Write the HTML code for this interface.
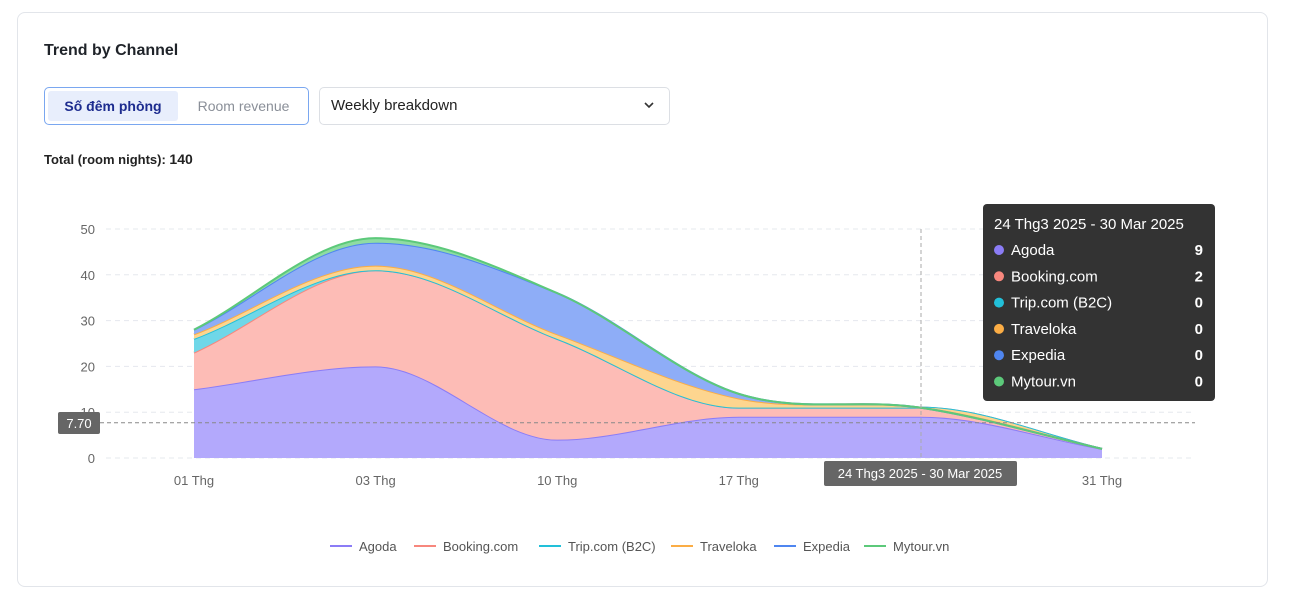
<!DOCTYPE html>
<html><head><meta charset="utf-8">
<style>
body{margin:0;background:#fff;font-family:"Liberation Sans","Noto Sans CJK SC",sans-serif;width:1305px;height:604px;overflow:hidden;position:relative}
.card{position:absolute;left:17px;top:12px;width:1249px;height:573px;border:1px solid #e2e5ea;border-radius:8px}
.title{position:absolute;left:44px;top:42px;font-size:16px;font-weight:bold;color:#1f2329}
.seg{position:absolute;left:44px;top:87px;width:265px;height:38px;border:1px solid #7aa7f0;border-radius:5px;box-sizing:border-box}
.seg .a{position:absolute;left:3px;top:3px;width:130px;height:30px;background:#e8eefc;border-radius:3px;color:#1d2c8f;font-weight:bold;font-size:14px;line-height:30px;text-align:center}
.seg .b{position:absolute;left:136px;top:3px;width:125px;height:30px;color:#8a8f98;font-size:14px;line-height:30px;text-align:center}
.sel{position:absolute;left:319px;top:87px;width:351px;height:38px;border:1px solid #dcdfe4;border-radius:5px;box-sizing:border-box;font-size:15px;color:#222;line-height:36px;padding-left:11px}
.sel svg{position:absolute;right:14px;top:13px}
.total{position:absolute;left:44px;top:151px;font-size:13px;color:#222;font-weight:bold}
.total b{font-size:14px}
</style></head><body>
<div class="card"></div>
<div class="title">Trend by Channel</div>
<div class="seg">
<div class="a">Số đêm phòng</div>
<div class="b">Room revenue</div></div>
<div class="sel">Weekly breakdown<svg width="12" height="8" viewBox="0 0 12 8"><path d="M2 2l4 4 4-4" stroke="#333" stroke-width="1.6" fill="none"/></svg></div>
<div class="total">Total (room nights): <b>140</b></div>
<svg id="chart" width="1305" height="604" style="position:absolute;left:0;top:0"></svg>
<script>
const categories=["01 Thg","03 Thg","10 Thg","17 Thg","24 Thg","31 Thg"];
const seriesNames=["Agoda","Booking.com","Trip.com (B2C)","Traveloka","Expedia","Mytour.vn"];
const agoda=[15,20,4,9,9,2];
const booking=[8,21,22,2,2,0];
const trip=[3,0,0,0,0,0];
const traveloka=[1,1,1,2,0,0];
const expedia=[1,5,9,1,0,0];
const mytour=[0,1,0,0,0,0];
const yTicks=[0,10,20,30,40,50];
const tooltipValues=[9,2,0,0,0,0];
const series=[agoda,booking,trip,traveloka,expedia,mytour];
const lineC=["#8b7cf6","#f7877d","#22c0d9","#fbad45","#4f86f0","#5cc97a"];
const fillC=["#b3a9fc","#fdbcb6","#6fd7e8","#fdd58f","#8eadf7","#8fdca3"];
const svg=document.getElementById('chart');const NS="http://www.w3.org/2000/svg";
const x=i=>194+i*181.6, y=v=>458-v*4.58;
function mk(t,a,p){const e=document.createElementNS(NS,t);for(const k in a)e.setAttribute(k,a[k]);(p||svg).appendChild(e);return e;}
function curve(pts){ // monotone cubic
 const n=pts.length,d=[],m=[];
 for(let i=0;i<n-1;i++)d.push((pts[i+1][1]-pts[i][1])/(pts[i+1][0]-pts[i][0]));
 for(let i=0;i<n;i++){if(i==0)m.push(d[0]);else if(i==n-1)m.push(d[n-2]);else m.push(d[i-1]*d[i]<=0?0:(d[i-1]+d[i])/2);}
 let s="";for(let i=0;i<n-1;i++){const h=(pts[i+1][0]-pts[i][0])/3;s+=` C${pts[i][0]+h},${pts[i][1]+m[i]*h} ${pts[i+1][0]-h},${pts[i+1][1]-m[i+1]*h} ${pts[i+1][0]},${pts[i+1][1]}`;}
 return s;}
yTicks.forEach(t=>{const g=mk('line',{x1:106,x2:1195,y1:y(t),y2:y(t),stroke:'#e5e8ee','stroke-dasharray':'5,4'});
 const l=mk('text',{x:95,y:y(t)+5,'text-anchor':'end','font-size':13,fill:'#666'});l.textContent=t;});
categories.forEach((c,i)=>{if(i==4)return;const l=mk('text',{x:x(i),y:485,'text-anchor':'middle','font-size':13,fill:'#666'});l.textContent=c;});
let base=categories.map(()=>0);
series.forEach((s,k)=>{const top=s.map((v,i)=>base[i]+v);
 const tp=top.map((v,i)=>[x(i),y(v)]),bp=base.map((v,i)=>[x(i),y(v)]).reverse();
 const p=mk('path',{d:`M${tp[0][0]},${tp[0][1]}`+curve(tp)+` L${bp[0][0]},${bp[0][1]}`+curve(bp)+'Z',fill:fillC[k],stroke:'none'});
 
 const ln=mk('path',{d:`M${tp[0][0]},${tp[0][1]}`+curve(tp),fill:'none',stroke:lineC[k],'stroke-width':2});
 
 base=top;});
mk('line',{x1:921,x2:921,y1:229,y2:458,stroke:'#aaa','stroke-dasharray':'4,3'});
mk('line',{x1:100,x2:1195,y1:y(7.7),y2:y(7.7),stroke:'#888','stroke-dasharray':'4,3'});
mk('rect',{x:58,y:412,width:42,height:22,rx:2,fill:'#666'});
let t=mk('text',{x:79,y:428,'text-anchor':'middle','font-size':13,fill:'#fff'});t.textContent='7.70';
mk('rect',{x:824,y:461,width:193,height:25,rx:2,fill:'#666'});
t=mk('text',{x:920,y:478,'text-anchor':'middle','font-size':13,fill:'#fff'});t.textContent='24 Thg3 2025 - 30 Mar 2025';
const tip=mk('g',{});
mk('rect',{x:983,y:204,width:232,height:197,rx:4,fill:'#333'},tip);
t=mk('text',{x:994,y:229,'font-size':15,fill:'#fff'},tip);t.textContent='24 Thg3 2025 - 30 Mar 2025';
seriesNames.forEach((n,k)=>{const yy=250+k*26.3;mk('circle',{cx:999,cy:yy,r:5,fill:lineC[k]},tip);
 let a=mk('text',{x:1011,y:yy+5,'font-size':15,fill:'#fff'},tip);a.textContent=n;
 a=mk('text',{x:1203,y:yy+5,'font-size':15,'font-weight':'bold',fill:'#fff','text-anchor':'end'},tip);a.textContent=tooltipValues[k];});
const lx=[330,414,539,671,774,864];
seriesNames.forEach((n,k)=>{const g=mk('g',{});
 mk('line',{x1:lx[k],x2:lx[k]+22,y1:546,y2:546,stroke:lineC[k],'stroke-width':2},g);
 const a=mk('text',{x:lx[k]+29,y:551,'font-size':13,fill:'#555'},g);a.textContent=n;});
</script></body></html>
